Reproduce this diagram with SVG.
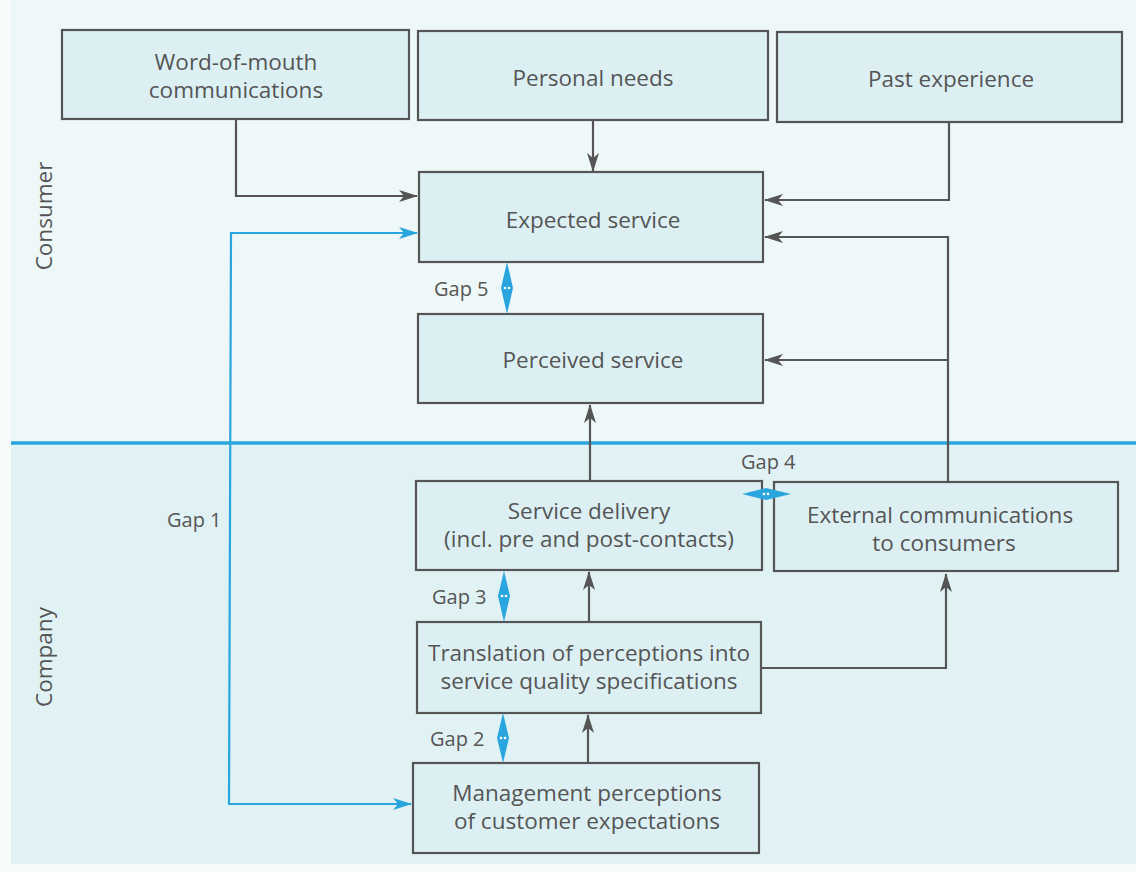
<svg xmlns="http://www.w3.org/2000/svg" width="1136" height="872" viewBox="0 0 1136 872">
<defs>
<marker id="ag" markerWidth="20" markerHeight="14" refX="18" refY="7" orient="auto" markerUnits="userSpaceOnUse">
<path d="M0,1 L19,7 L0,13 L5,7 z" fill="#555"/>
</marker>
<marker id="ab" markerWidth="20" markerHeight="14" refX="18" refY="7" orient="auto-start-reverse" markerUnits="userSpaceOnUse">
<path d="M0,1 L19,7 L0,13 L5,7 z" fill="#2aa6de"/>
</marker>
<style>
.box{fill:#dcf0f3;stroke:#555;stroke-width:2.2}
.t{font-family:"Open Sans","Noto Sans","Liberation Sans",sans-serif;font-size:22.5px;fill:#555;text-anchor:middle}
.g{font-family:"Open Sans","Noto Sans","Liberation Sans",sans-serif;font-size:20px;fill:#555}
.c{fill:none;stroke:#555;stroke-width:2.2}
.b{fill:none;stroke:#2aa6de;stroke-width:2.2}
.gap{fill:#2aa6de}
.dot{fill:#fff}
</style>
</defs>
<rect x="0" y="0" width="1136" height="872" fill="#f7fbfb"/>
<rect x="11" y="0" width="1125" height="444" fill="#eff8f8"/>
<rect x="11" y="444" width="1125" height="420" fill="#e1f2f5"/>
<line x1="11" y1="443" x2="1136" y2="443" stroke="#2aa6de" stroke-width="3.5"/>

<text class="t" transform="translate(52,216) rotate(-90)">Consumer</text>
<text class="t" transform="translate(52,657) rotate(-90)">Company</text>

<g id="connectors">
<polyline class="c" points="236,120 236,196 417,196" marker-end="url(#ag)"/>
<line class="c" x1="593" y1="120" x2="593" y2="171" marker-end="url(#ag)"/>
<polyline class="c" points="949,122 949,200 765,200" marker-end="url(#ag)"/>
<polyline class="c" points="948,481 948,237 765,237" marker-end="url(#ag)"/>
<line class="c" x1="948" y1="360" x2="765" y2="360" marker-end="url(#ag)"/>
<line class="c" x1="590" y1="481" x2="590" y2="405" marker-end="url(#ag)"/>
<line class="c" x1="589" y1="622" x2="589" y2="572" marker-end="url(#ag)"/>
<line class="c" x1="588" y1="763" x2="588" y2="715" marker-end="url(#ag)"/>
<polyline class="c" points="761,668 946,668 946,574" marker-end="url(#ag)"/>
<polyline class="b" points="417,233 231,233 229,804 411,804" marker-start="url(#ab)" marker-end="url(#ab)"/>
</g>

<g id="word-of-mouth"><rect class="box" x="62" y="30" width="347" height="89"/><text class="t" x="236" y="70">Word-of-mouth</text><text class="t" x="236" y="98">communications</text></g>
<g id="personal-needs"><rect class="box" x="418" y="31" width="350" height="89"/><text class="t" x="593" y="86">Personal needs</text></g>
<g id="past-experience"><rect class="box" x="777" y="32" width="345" height="90"/><text class="t" x="951" y="87">Past experience</text></g>
<g id="expected-service"><rect class="box" x="419" y="172" width="344" height="90"/><text class="t" x="593" y="228">Expected service</text></g>
<g id="perceived-service"><rect class="box" x="418" y="314" width="345" height="89"/><text class="t" x="593" y="368">Perceived service</text></g>
<g id="service-delivery"><rect class="box" x="416" y="481" width="346" height="89"/><text class="t" x="589" y="519">Service delivery</text><text class="t" x="589" y="547">(incl. pre and post-contacts)</text></g>
<g id="external-communications"><rect class="box" x="774" y="482" width="344" height="89"/><text class="t" x="940" y="523">External communications</text><text class="t" x="944" y="551">to consumers</text></g>
<g id="translation"><rect class="box" x="417" y="622" width="344" height="91"/><text class="t" x="589" y="661">Translation of perceptions into</text><text class="t" x="589" y="689">service quality specifications</text></g>
<g id="management"><rect class="box" x="413" y="763" width="346" height="90"/><text class="t" x="587" y="801">Management perceptions</text><text class="t" x="587" y="829">of customer expectations</text></g>

<g id="gaps">
<g id="gap5"><path class="gap" d="M507,262 L513,288 L507,314 L501,288 z"/><circle class="dot" cx="505" cy="288" r="1.3"/><circle class="dot" cx="509" cy="288" r="1.3"/><text class="g" x="434" y="296">Gap 5</text></g>
<g id="gap3"><path class="gap" d="M504,571 L510,596 L504,622 L498,596 z"/><circle class="dot" cx="502" cy="596" r="1.3"/><circle class="dot" cx="506" cy="596" r="1.3"/><text class="g" x="432" y="604">Gap 3</text></g>
<g id="gap2"><path class="gap" d="M503,713 L509,738 L503,763 L497,738 z"/><circle class="dot" cx="501" cy="738" r="1.3"/><circle class="dot" cx="505" cy="738" r="1.3"/><text class="g" x="430" y="746">Gap 2</text></g>
<g id="gap4"><path class="gap" d="M742,494 L766,488 L791,494 L766,500 z"/><circle class="dot" cx="764" cy="494" r="1.3"/><circle class="dot" cx="768" cy="494" r="1.3"/><text class="g" x="741" y="469">Gap 4</text></g>
<g id="gap1"><text class="g" x="167" y="527">Gap 1</text></g>
</g>
</svg>
